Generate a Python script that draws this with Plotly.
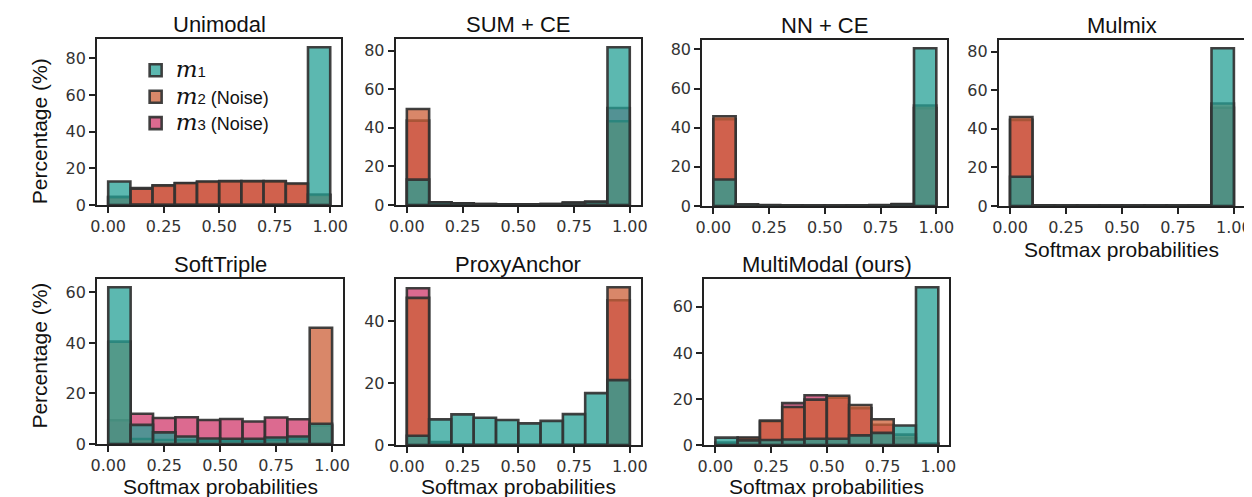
import plotly.graph_objects as go

# ---------------- data ----------------
bin_left = [0.0, 0.1, 0.2, 0.3, 0.4, 0.5, 0.6, 0.7, 0.8, 0.9]
x_tick_vals = [0.0, 0.25, 0.5, 0.75, 1.0]
x_tick_text = ["0.00", "0.25", "0.50", "0.75", "1.00"]

panel_titles = ["Unimodal", "SUM + CE", "NN + CE", "Mulmix",
                "SoftTriple", "ProxyAnchor", "MultiModal (ours)"]
series_labels = ["m1", "m2 (Noise)", "m3 (Noise)"]

unimodal_m1 = [12.8, 0.2, 0.1, 0.1, 0.1, 0.1, 0.1, 0.1, 0.2, 86.0]
unimodal_m2 = [4.4, 8.8, 10.7, 12.0, 12.8, 13.0, 13.0, 13.0, 11.7, 5.7]
unimodal_m3 = [4.0, 9.2, 10.4, 11.8, 12.5, 12.8, 12.8, 12.7, 11.4, 5.3]

sumce_m1 = [13.1, 1.4, 0.8, 0.3, 0.2, 0.2, 0.3, 1.0, 1.6, 81.7]
sumce_m2 = [49.7, 1.2, 0.8, 0.5, 0.3, 0.3, 0.5, 1.1, 1.5, 43.4]
sumce_m3 = [43.7, 1.3, 0.8, 0.5, 0.3, 0.3, 0.5, 1.2, 1.6, 50.2]

nnce_m1 = [13.5, 0.8, 0.5, 0.3, 0.2, 0.2, 0.3, 0.5, 1.0, 80.6]
nnce_m2 = [45.8, 0.5, 0.3, 0.2, 0.2, 0.2, 0.2, 0.3, 0.8, 51.3]
nnce_m3 = [44.3, 0.5, 0.3, 0.2, 0.2, 0.2, 0.2, 0.3, 0.8, 50.0]

mulmix_m1 = [15.1, 0.3, 0.2, 0.2, 0.2, 0.2, 0.2, 0.2, 0.3, 81.7]
mulmix_m2 = [46.1, 0.3, 0.2, 0.2, 0.2, 0.2, 0.2, 0.2, 0.3, 53.1]
mulmix_m3 = [44.6, 0.3, 0.2, 0.2, 0.2, 0.2, 0.2, 0.2, 0.3, 50.9]

softtriple_m1 = [62.0, 7.6, 4.6, 3.0, 2.2, 2.1, 2.1, 2.6, 3.0, 8.0]
softtriple_m2 = [40.5, 2.0, 1.6, 1.5, 1.2, 1.2, 1.2, 1.5, 2.0, 46.0]
softtriple_m3 = [9.4, 12.0, 10.3, 10.6, 9.5, 9.9, 8.9, 10.5, 9.8, 7.3]

proxyanchor_m1 = [3.0, 8.3, 9.9, 8.8, 8.1, 7.0, 7.8, 10.0, 16.8, 21.0]
proxyanchor_m2 = [47.6, 0.8, 0.2, 0.1, 0.1, 0.1, 0.1, 0.1, 0.2, 51.0]
proxyanchor_m3 = [50.7, 1.0, 0.2, 0.1, 0.1, 0.1, 0.1, 0.1, 0.2, 46.8]

multimodal_m1 = [3.2, 2.0, 2.2, 2.4, 2.7, 2.7, 4.2, 5.3, 8.5, 68.5]
multimodal_m2 = [1.0, 3.3, 10.6, 16.5, 19.7, 21.4, 17.4, 11.2, 4.5, 0.5]
multimodal_m3 = [1.0, 3.0, 10.2, 18.2, 21.6, 20.6, 16.0, 8.8, 3.0, 0.5]

panel_series = [
    (unimodal_m1, unimodal_m2, unimodal_m3),
    (sumce_m1, sumce_m2, sumce_m3),
    (nnce_m1, nnce_m2, nnce_m3),
    (mulmix_m1, mulmix_m2, mulmix_m3),
    (softtriple_m1, softtriple_m2, softtriple_m3),
    (proxyanchor_m1, proxyanchor_m2, proxyanchor_m3),
    (multimodal_m1, multimodal_m2, multimodal_m3),
]
y_tick_sets = [
    [0, 20, 40, 60, 80], [0, 20, 40, 60, 80], [0, 20, 40, 60, 80], [0, 20, 40, 60, 80],
    [0, 20, 40, 60], [0, 20, 40], [0, 20, 40, 60],
]

# ---------------- styling / layout ----------------
W, H = 1252, 497
# pixel boxes (left, right, top, bottom)
boxes = [
    (83, 330, 32, 201), (385, 633, 32, 201), (695, 943, 33, 202), (995, 1244, 33, 202),
    (83, 332, 277, 445), (385, 633, 277, 446), (697, 945, 277, 446),
]
fill_colors = ["rgba(38,160,150,0.75)", "rgba(204,95,55,0.75)", "rgba(208,56,107,0.75)"]
edge_color = "rgba(50,50,50,0.92)"
m_span = "<span style='font-family:DejaVu Serif;font-size:23px'><i>m</i></span>"
noise_span = " (Noise)"
legend_names = [
    m_span + "<span style='font-size:15px'>1</span>",
    m_span + "<span style='font-size:15px'>2</span>" + noise_span,
    m_span + "<span style='font-size:15px'>3</span>" + noise_span,
]

fig = go.Figure()
axis_color = "#222222"
tick_font = dict(family="DejaVu Sans", size=16, color="#333333")

annotations = []
for i, (series, box) in enumerate(zip(panel_series, boxes)):
    k = "" if i == 0 else str(i + 1)
    xa, ya = "x" + k, "y" + k
    # draw m3 first, then m2, then m1 on top
    for j in [2, 1, 0]:
        fig.add_trace(go.Bar(
            x=bin_left, y=series[j], width=0.1, offset=0,
            marker=dict(color=fill_colors[j], line=dict(color=edge_color, width=2.6)),
            name=legend_names[j], legendrank=j + 1,
            showlegend=(i == 0), xaxis=xa, yaxis=ya,
            hovertemplate=series_labels[j] + ": %{y}<extra></extra>",
        ))
    l, r, t, b = box
    ymax = max(max(s) for s in series) * 1.05
    fig.layout["xaxis" + k] = dict(
        domain=[l / W, r / W], anchor=ya, range=[-0.05, 1.05],
        tickvals=x_tick_vals, ticktext=x_tick_text, ticks="outside", ticklen=6,
        tickwidth=1.6, tickcolor=axis_color, showline=True, linewidth=2,
        linecolor=axis_color, mirror=True, showgrid=False, zeroline=False,
        tickfont=tick_font,
    )
    fig.layout["yaxis" + k] = dict(
        domain=[1 - b / H, 1 - t / H], anchor=xa, range=[0, ymax],
        tickvals=y_tick_sets[i], ticks="outside", ticklen=6, tickwidth=1.6,
        tickcolor=axis_color, showline=True, linewidth=2, linecolor=axis_color,
        mirror=True, showgrid=False, zeroline=False, tickfont=tick_font,
    )
    # title
    annotations.append(dict(
        text=panel_titles[i], x=(l + r) / 2 / W, y=1 - (t - 15) / H,
        xref="paper", yref="paper", xanchor="center", yanchor="middle",
        showarrow=False, font=dict(family="Liberation Sans", size=22, color="#111111"),
    ))

# y labels
for yc in [126, 355]:
    annotations.append(dict(
        text="Percentage (%)", x=25 / W, y=1 - yc / H, xref="paper", yref="paper",
        xanchor="center", yanchor="middle", textangle=-90, showarrow=False,
        font=dict(family="Liberation Sans", size=21, color="#111111"),
    ))
# x labels
for idx, yc in [(3, 246), (4, 488), (5, 488), (6, 488)]:
    l, r, t, b = boxes[idx]
    annotations.append(dict(
        text="Softmax probabilities", x=(l + r) / 2 / W, y=1 - yc / H,
        xref="paper", yref="paper", xanchor="center", yanchor="middle", showarrow=False,
        font=dict(family="Liberation Sans", size=21, color="#111111"),
    ))

fig.update_layout(
    width=W, height=H, margin=dict(l=0, r=0, t=0, b=0),
    paper_bgcolor="white", plot_bgcolor="white", barmode="overlay",
    annotations=annotations,
    legend=dict(x=122 / W, y=1 - 45 / H, xanchor="left", yanchor="top",
                bgcolor="rgba(0,0,0,0)", font=dict(family="Liberation Sans", size=18, color="#111111"),
                tracegroupgap=0, itemwidth=30),
)

fig.write_html("out.html")
